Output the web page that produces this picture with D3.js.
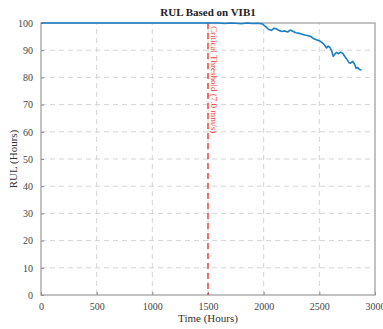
<!DOCTYPE html>
<html>
<head>
<meta charset="utf-8">
<script src="https://cdn.jsdelivr.net/npm/d3@7"></script>
<style>
  body { margin: 0; background: #fff; }
  text { font-family: "Liberation Serif", "DejaVu Serif", serif; }
</style>
</head>
<body>
<div id="chart"></div>
<script>
// RUL curve (time in hours, RUL in hours)
const timeHours = [0, 1500, 1600, 1650, 1700, 1750, 1800, 1850, 1900, 1950, 1990, 2020, 2045, 2070, 2095,
  2115, 2140, 2165, 2190, 2215, 2240, 2265, 2290, 2320, 2345, 2370, 2400, 2425, 2450, 2475, 2500, 2525,
  2545, 2565, 2580, 2595, 2610, 2625, 2640, 2655, 2670, 2690, 2710, 2730, 2745, 2765, 2780, 2800, 2815,
  2830, 2845, 2860, 2880];
const rulHours = [100, 100, 100, 99.8, 100, 99.9, 99.7, 100, 99.8, 99.9, 99.6, 98.6, 97.6, 97.3, 98.1,
  97.8, 97.2, 96.9, 97.1, 96.7, 97.4, 96.9, 96.4, 96.2, 95.9, 95.6, 95.3, 95.0, 94.2, 93.8, 93.5, 92.8,
  92.0, 90.8, 91.5, 91.0, 89.8, 87.8, 88.6, 89.2, 88.7, 89.3, 88.9, 87.6, 86.8, 85.5, 85.2, 85.9, 85.0,
  83.4, 83.6, 82.9, 82.7];
const xTicks = [0, 500, 1000, 1500, 2000, 2500, 3000];
const yTicks = [0, 10, 20, 30, 40, 50, 60, 70, 80, 90, 100];
const thresholdTime = 1500;
const thresholdLabel = "Critical Threshold (7.0 mm/s)";

const width = 383, height = 329;
const margin = { top: 23, right: 8, bottom: 34, left: 41 };

const data = timeHours.map((t, i) => ({ t: t, v: rulHours[i] }));

const x = d3.scaleLinear().domain([0, 3000]).range([margin.left, width - margin.right]);
const y = d3.scaleLinear().domain([0, 100]).range([height - margin.bottom, margin.top]);

const svg = d3.select("#chart").append("svg")
    .attr("width", width)
    .attr("height", height);

// grid
svg.append("g")
    .selectAll("line.vg")
    .data(xTicks.slice(1, -1))
    .join("line")
    .attr("x1", d => x(d)).attr("x2", d => x(d))
    .attr("y1", y(0)).attr("y2", y(100))
    .attr("stroke", "#d4d4d4").attr("stroke-width", 1)
    .attr("stroke-dasharray", "5,4");

svg.append("g")
    .selectAll("line.hg")
    .data(yTicks.slice(1, -1))
    .join("line")
    .attr("x1", x(0)).attr("x2", x(3000))
    .attr("y1", d => y(d)).attr("y2", d => y(d))
    .attr("stroke", "#d4d4d4").attr("stroke-width", 1)
    .attr("stroke-dasharray", "5,4");

// axes
const xAxis = g => g
    .attr("transform", `translate(0,${y(0)})`)
    .call(d3.axisBottom(x).tickValues(xTicks).tickSize(-3).tickPadding(8).tickFormat(d3.format("d")))
    .call(g => g.select(".domain").remove());

const yAxis = g => g
    .attr("transform", `translate(${x(0)},0)`)
    .call(d3.axisLeft(y).tickValues(yTicks).tickSize(-3).tickPadding(8))
    .call(g => g.select(".domain").remove());

svg.append("g").call(xAxis)
    .call(g => g.selectAll("text").attr("font-size", 10).attr("fill", "#444")
        .attr("font-family", "Liberation Serif, serif"))
    .call(g => g.selectAll("line").attr("stroke", "#888"));

svg.append("g").call(yAxis)
    .call(g => g.selectAll("text").attr("font-size", 10).attr("fill", "#444")
        .attr("font-family", "Liberation Serif, serif"))
    .call(g => g.selectAll("line").attr("stroke", "#888"));

// frame
svg.append("rect")
    .attr("x", x(0)).attr("y", y(100))
    .attr("width", x(3000) - x(0)).attr("height", y(0) - y(100))
    .attr("fill", "none").attr("stroke", "#999").attr("stroke-width", 1.2);

// threshold
svg.append("line")
    .attr("x1", x(thresholdTime)).attr("x2", x(thresholdTime))
    .attr("y1", y(100)).attr("y2", y(0))
    .attr("stroke", "#ee3b3b").attr("stroke-width", 1.4)
    .attr("stroke-dasharray", "6,4");

// rotated clockwise: glyph tops point to the right of the line
svg.append("text")
    .attr("transform", `translate(${x(thresholdTime) + 3},${y(100) + 3}) rotate(90)`)
    .attr("font-size", 9)
    .attr("fill", "#ee3b3b")
    .text(thresholdLabel);

// RUL line
const line = d3.line()
    .x(d => x(d.t))
    .y(d => y(d.v));

svg.append("path")
    .datum(data)
    .attr("fill", "none")
    .attr("stroke", "#1a7fc7")
    .attr("stroke-width", 1.6)
    .attr("stroke-linejoin", "round")
    .attr("d", line);

// titles
svg.append("text")
    .attr("x", (x(0) + x(3000)) / 2).attr("y", 16)
    .attr("text-anchor", "middle")
    .attr("font-size", 11).attr("font-weight", "bold").attr("fill", "#222")
    .text("RUL Based on VIB1");

svg.append("text")
    .attr("x", (x(0) + x(3000)) / 2).attr("y", 322)
    .attr("text-anchor", "middle")
    .attr("font-size", 11).attr("fill", "#333")
    .text("Time (Hours)");

svg.append("text")
    .attr("transform", `translate(17,${(y(0) + y(100)) / 2}) rotate(-90)`)
    .attr("text-anchor", "middle")
    .attr("font-size", 11).attr("fill", "#333")
    .text("RUL (Hours)");
</script>
</body>
</html>
